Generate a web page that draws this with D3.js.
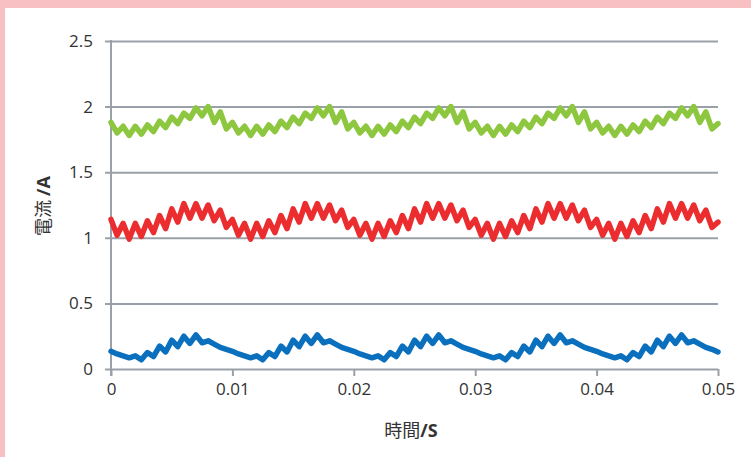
<!DOCTYPE html>
<html>
<head>
<meta charset="utf-8">
<script src="https://cdn.jsdelivr.net/npm/d3@7"></script>
<style>
  html, body { margin: 0; padding: 0; background: #fff; }
  svg { display: block; }
  .tick text { font-family: "Open Sans", "Noto Sans", sans-serif; font-size: 17px; fill: #333; }
</style>
</head>
<body>
<svg id="chart" width="751" height="457"></svg>
<script>
// Sample instants (s), every 0.5 ms over 50 ms
const timeS = [
  0, 0.0005, 0.001, 0.0015, 0.002, 0.0025, 0.003, 0.0035, 0.004, 0.0045,
  0.005, 0.0055, 0.006, 0.0065, 0.007, 0.0075, 0.008, 0.0085, 0.009, 0.0095,
  0.01, 0.0105, 0.011, 0.0115, 0.012, 0.0125, 0.013, 0.0135, 0.014, 0.0145,
  0.015, 0.0155, 0.016, 0.0165, 0.017, 0.0175, 0.018, 0.0185, 0.019, 0.0195,
  0.02, 0.0205, 0.021, 0.0215, 0.022, 0.0225, 0.023, 0.0235, 0.024, 0.0245,
  0.025, 0.0255, 0.026, 0.0265, 0.027, 0.0275, 0.028, 0.0285, 0.029, 0.0295,
  0.03, 0.0305, 0.031, 0.0315, 0.032, 0.0325, 0.033, 0.0335, 0.034, 0.0345,
  0.035, 0.0355, 0.036, 0.0365, 0.037, 0.0375, 0.038, 0.0385, 0.039, 0.0395,
  0.04, 0.0405, 0.041, 0.0415, 0.042, 0.0425, 0.043, 0.0435, 0.044, 0.0445,
  0.045, 0.0455, 0.046, 0.0465, 0.047, 0.0475, 0.048, 0.0485, 0.049, 0.0495,
  0.05
];

// Current (A) of each phase at those instants
const currentGreen = [
  1.88, 1.80, 1.85, 1.78, 1.85, 1.79, 1.86, 1.81, 1.89, 1.84, 1.92, 1.87, 1.95, 1.91, 1.99, 1.93, 2.00, 1.88, 1.96, 1.83,
  1.88, 1.80, 1.85, 1.78, 1.85, 1.79, 1.86, 1.81, 1.89, 1.84, 1.92, 1.87, 1.95, 1.91, 1.99, 1.93, 2.00, 1.88, 1.96, 1.83,
  1.88, 1.80, 1.85, 1.78, 1.85, 1.79, 1.86, 1.81, 1.89, 1.84, 1.92, 1.87, 1.95, 1.91, 1.99, 1.93, 2.00, 1.88, 1.96, 1.83,
  1.88, 1.80, 1.85, 1.78, 1.85, 1.79, 1.86, 1.81, 1.89, 1.84, 1.92, 1.87, 1.95, 1.91, 1.99, 1.93, 2.00, 1.88, 1.96, 1.83,
  1.88, 1.80, 1.85, 1.78, 1.85, 1.79, 1.86, 1.81, 1.89, 1.84, 1.92, 1.87, 1.95, 1.91, 1.99, 1.93, 2.00, 1.88, 1.96, 1.83,
  1.87
];
const currentRed = [
  1.14, 1.02, 1.11, 0.99, 1.11, 1.01, 1.13, 1.04, 1.17, 1.07, 1.22, 1.12, 1.26, 1.15, 1.26, 1.15, 1.25, 1.13, 1.21, 1.08,
  1.14, 1.02, 1.11, 0.99, 1.11, 1.01, 1.13, 1.04, 1.17, 1.07, 1.22, 1.12, 1.26, 1.15, 1.26, 1.15, 1.25, 1.13, 1.21, 1.08,
  1.14, 1.02, 1.11, 0.99, 1.11, 1.01, 1.13, 1.04, 1.17, 1.07, 1.22, 1.12, 1.26, 1.15, 1.26, 1.15, 1.25, 1.13, 1.21, 1.08,
  1.14, 1.02, 1.11, 0.99, 1.11, 1.01, 1.13, 1.04, 1.17, 1.07, 1.22, 1.12, 1.26, 1.15, 1.26, 1.15, 1.25, 1.13, 1.21, 1.08,
  1.14, 1.02, 1.11, 0.99, 1.11, 1.01, 1.13, 1.04, 1.17, 1.07, 1.22, 1.12, 1.26, 1.15, 1.26, 1.15, 1.25, 1.13, 1.21, 1.08,
  1.12
];
const currentBlue = [
  0.135, 0.115, 0.10, 0.085, 0.10, 0.07, 0.125, 0.095, 0.175, 0.13, 0.22, 0.17, 0.25, 0.195, 0.26, 0.20, 0.215, 0.19, 0.165, 0.15,
  0.135, 0.115, 0.10, 0.085, 0.10, 0.07, 0.125, 0.095, 0.175, 0.13, 0.22, 0.17, 0.25, 0.195, 0.26, 0.20, 0.215, 0.19, 0.165, 0.15,
  0.135, 0.115, 0.10, 0.085, 0.10, 0.07, 0.125, 0.095, 0.175, 0.13, 0.22, 0.17, 0.25, 0.195, 0.26, 0.20, 0.215, 0.19, 0.165, 0.15,
  0.135, 0.115, 0.10, 0.085, 0.10, 0.07, 0.125, 0.095, 0.175, 0.13, 0.22, 0.17, 0.25, 0.195, 0.26, 0.20, 0.215, 0.19, 0.165, 0.15,
  0.135, 0.115, 0.10, 0.085, 0.10, 0.07, 0.125, 0.095, 0.175, 0.13, 0.22, 0.17, 0.25, 0.195, 0.26, 0.20, 0.215, 0.19, 0.165, 0.15,
  0.13
];

const xTicks = [0, 0.01, 0.02, 0.03, 0.04, 0.05];
const yTicks = [0, 0.5, 1, 1.5, 2, 2.5];

const seriesList = [
  { values: currentGreen, color: "#8dc63f" },
  { values: currentRed, color: "#ec2d30" },
  { values: currentBlue, color: "#0a70be" }
];

const svg = d3.select("#chart");
const gridColor = "#9aa0a7";

// frame: pink band on the top and left edges
svg.append("rect").attr("x", 0).attr("y", 0).attr("width", 751).attr("height", 457).attr("fill", "#f9c0c3");
svg.append("rect").attr("x", 5).attr("y", 8).attr("width", 746).attr("height", 449).attr("fill", "#ffffff");

const x = d3.scaleLinear().domain([0, 0.05]).range([111, 718]);
const y = d3.scaleLinear().domain([0, 2.5]).range([369, 41]);

// horizontal gridlines with left tick labels
const gridLeft = 105;
const yAxis = svg.append("g")
  .attr("transform", `translate(${gridLeft},0)`)
  .call(d3.axisLeft(y).tickValues(yTicks).tickFormat(d => String(d))
    .tickSize(-(x.range()[1] - gridLeft)).tickPadding(12));
yAxis.select(".domain").remove();
yAxis.selectAll(".tick line").attr("stroke", gridColor).attr("stroke-width", 2);

// x axis ticks and labels
const xAxis = svg.append("g")
  .attr("transform", `translate(0,${y(0)})`)
  .call(d3.axisBottom(x).tickValues(xTicks).tickFormat(d => String(d))
    .tickSize(7).tickPadding(7));
xAxis.select(".domain").remove();
xAxis.selectAll(".tick line").attr("stroke", gridColor).attr("stroke-width", 2);

// vertical axis line
svg.append("line")
  .attr("x1", x(0)).attr("x2", x(0))
  .attr("y1", y(2.5) - 1).attr("y2", y(0) + 7)
  .attr("stroke", gridColor).attr("stroke-width", 2);

// current traces
const line = d3.line()
  .x((d, i) => x(timeS[i]))
  .y(d => y(d));

svg.append("g").selectAll("path")
  .data(seriesList)
  .join("path")
  .attr("d", s => line(s.values))
  .attr("fill", "none")
  .attr("stroke", s => s.color)
  .attr("stroke-width", 5.5)
  .attr("stroke-linejoin", "round")
  .attr("stroke-linecap", "round");

// axis titles
const yTitle = svg.append("text")
  .attr("transform", "translate(50,206) rotate(-90)")
  .attr("text-anchor", "middle")
  .attr("fill", "#333")
  .attr("font-size", 18);
yTitle.append("tspan").attr("font-family", "'Noto Sans CJK JP', sans-serif").text("電流 ");
yTitle.append("tspan").attr("font-family", "'Open Sans', sans-serif").attr("font-weight", "bold").text("/A");

const xTitle = svg.append("text")
  .attr("x", 411).attr("y", 437)
  .attr("text-anchor", "middle")
  .attr("fill", "#333")
  .attr("font-size", 18);
xTitle.append("tspan").attr("font-family", "'Noto Sans CJK JP', sans-serif").text("時間");
xTitle.append("tspan").attr("font-family", "'Open Sans', sans-serif").attr("font-weight", "bold").text("/S");
</script>
</body>
</html>
